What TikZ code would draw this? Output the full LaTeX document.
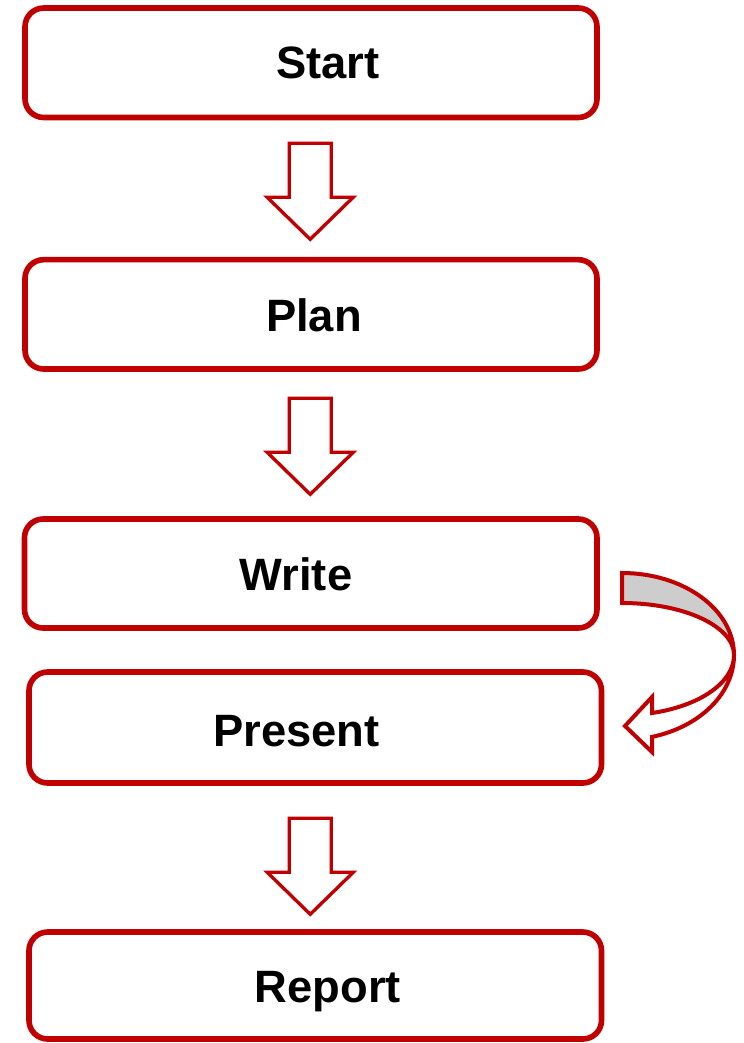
\documentclass[tikz,border=0pt]{standalone}
\usepackage{fontspec}
\setmainfont{Liberation Sans}
\usetikzlibrary{calc}
\definecolor{boxred}{HTML}{C00000}
\definecolor{bandgray}{HTML}{CDCDCD}

\tikzset{
  stepbox/.style={draw=boxred, line width=4.2pt, rounded corners=14pt,
    inner sep=0pt, outer sep=0pt, minimum width=429pt},
  steptext/.style={font=\fontsize{34}{34}\selectfont\bfseries,
    anchor=base, inner sep=0pt},
  arrowline/.style={draw=boxred, line width=2.5pt, fill=white, miter limit=10},
  blockarrow/.pic={
    \draw[arrowline] (-21,0) -- (21,0) -- (21,54) -- (43,54) -- (0,96)
      -- (-43,54) -- (-21,54) -- cycle;
  }
}

\begin{document}
\begin{tikzpicture}[x=0.75pt,y=-0.75pt]
  \path[use as bounding box] (0,0) rectangle (743,1043);

  % process steps
  \node[stepbox, minimum height=82.1pt] (start)   at (311,62.75)   {};
  \node[stepbox, minimum height=82pt]   (plan)    at (311,314.35)  {};
  \node[stepbox, minimum height=81.75pt, minimum width=429.4pt] (write)   at (310.75,573.5) {};
  \node[stepbox, minimum height=83.25pt, minimum width=429.4pt] (present) at (315.25,727.5) {};
  \node[stepbox, minimum height=80.25pt, minimum width=429.4pt] (report)  at (315.25,985.5) {};

  \node[steptext] (starttext)   at (328,78)    {Start};
  \node[steptext] (plantext)    at (314,331)   {Plan};
  \node[steptext] (writetext)   at (296,590)   {Write};
  \node[steptext] (presenttext) at (296.5,746.5) {Present};
  \node[steptext] (reporttext)  at (328,1002.5) {Report};

  % block arrows between steps
  \pic at ($(start.south)+(-0.8,25.8)$) {blockarrow};
  \pic at ($(plan.south)+(-0.8,29.3)$) {blockarrow};
  \pic at ($(present.south)+(-5,35.3)$) {blockarrow};

  % curved arrow from Write back round to Present
  \coordinate (bend) at ($(write.east)+(25,81.5)$);
  \draw[arrowline, line width=3pt, fill=white]
    ($(bend)+(112,0)$)
      arc[start angle=0, end angle=-74.46, x radius=84pt, y radius=63.75pt]
      -- ($(bend)+(30,97)$) -- ($(bend)+(3,71)$) -- ($(bend)+(30,42)$)
      -- ($(bend)+(30,58)$)
      arc[start angle=-74.46, end angle=0, x radius=84pt, y radius=45pt]
      -- cycle;
  \draw[arrowline, line width=3pt, fill=bandgray]
    ($(bend)+(0,-82)$)
      arc[start angle=90, end angle=0, x radius=84pt, y radius=61.5pt]
      arc[start angle=0, end angle=90, x radius=84pt, y radius=39pt]
      -- cycle;
\end{tikzpicture}
\end{document}
